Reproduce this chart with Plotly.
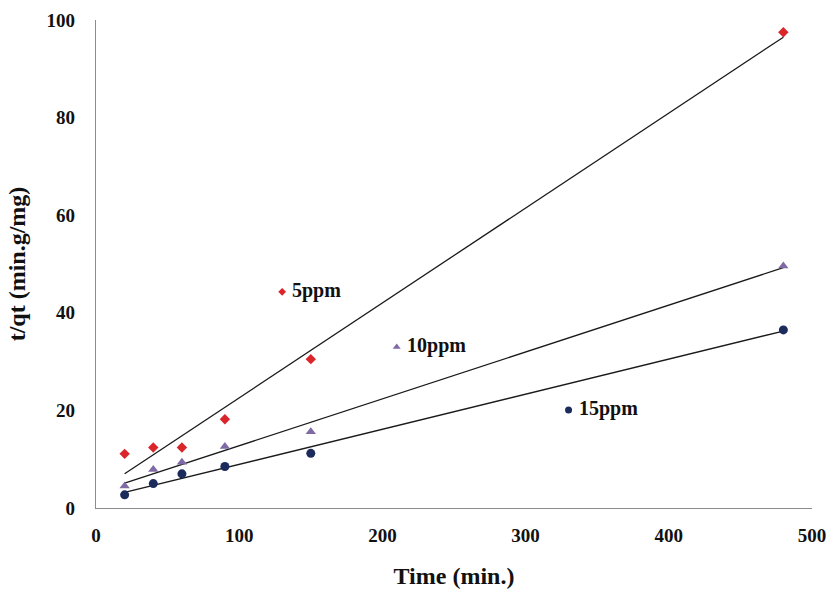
import numpy as np
import plotly.graph_objects as go

time_min = [20, 40, 60, 90, 150, 480]
y_5ppm = [11.1, 12.4, 12.4, 18.2, 30.5, 97.5]
y_10ppm = [4.5, 7.9, 9.4, 12.6, 15.6, 49.6]
y_15ppm = [2.7, 5.0, 7.0, 8.5, 11.2, 36.5]

series_names = ["5ppm", "10ppm", "15ppm"]
label_x = [130, 210, 330]
label_y = [44.3, 33, 20.1]

x_ticks = [0, 100, 200, 300, 400, 500]
y_ticks = [0, 20, 40, 60, 80, 100]

colors = ["#DA252B", "#7F6AA6", "#1A2B5C"]
symbols = ["diamond", "triangle-up", "circle"]
sizes = [8, 9, 9]
label_sizes = [6, 7, 7]

FONT = "Liberation Serif"

fig = go.Figure()
xs = np.array(time_min, dtype=float)
for name, ys, c, s, sz in zip(series_names, [y_5ppm, y_10ppm, y_15ppm], colors, symbols, sizes):
    slope, intercept = np.polyfit(xs, np.array(ys), 1)
    xl = [xs.min(), xs.max()]
    fig.add_trace(go.Scatter(x=xl, y=[slope * v + intercept for v in xl], mode="lines",
                             line=dict(color="#1a1a1a", width=1.3), showlegend=False, hoverinfo="skip"))
    fig.add_trace(go.Scatter(x=time_min, y=ys, mode="markers", name=name,
                             marker=dict(symbol=s, size=sz, color=c), showlegend=False))

# inline labels
for name, lx, ly, c, s, sz in zip(series_names, label_x, label_y, colors, symbols, label_sizes):
    fig.add_trace(go.Scatter(x=[lx], y=[ly], mode="markers+text", text=[" " + name],
                             textposition="middle right",
                             textfont=dict(family=FONT, size=20, color="#111111", weight="bold"),
                             marker=dict(symbol=s, size=sz, color=c), showlegend=False))

tickfont = dict(family=FONT, size=19, color="#111111", weight="bold")
titlefont = dict(family=FONT, size=24, color="#111111", weight="bold")
axis_common = dict(showgrid=False, zeroline=False, showline=True, linecolor="#8c8c8c",
                   linewidth=1.3, ticks="", tickfont=tickfont, automargin=False)

fig.update_layout(
    width=830, height=592,
    margin=dict(l=96, r=18, t=20, b=84),
    paper_bgcolor="white", plot_bgcolor="white",
    xaxis=dict(range=[0, 500], tickvals=x_ticks, ticklabelstandoff=10,
               title=dict(text="Time (min.)", font=titlefont, standoff=22),
               **axis_common),
    yaxis=dict(range=[0, 100], tickvals=y_ticks, ticklabelstandoff=16,
               title=dict(text="t/qt (min.g/mg)", font=titlefont, standoff=14),
               **axis_common),
    font=dict(family=FONT),
)

fig.write_html("out.html")
